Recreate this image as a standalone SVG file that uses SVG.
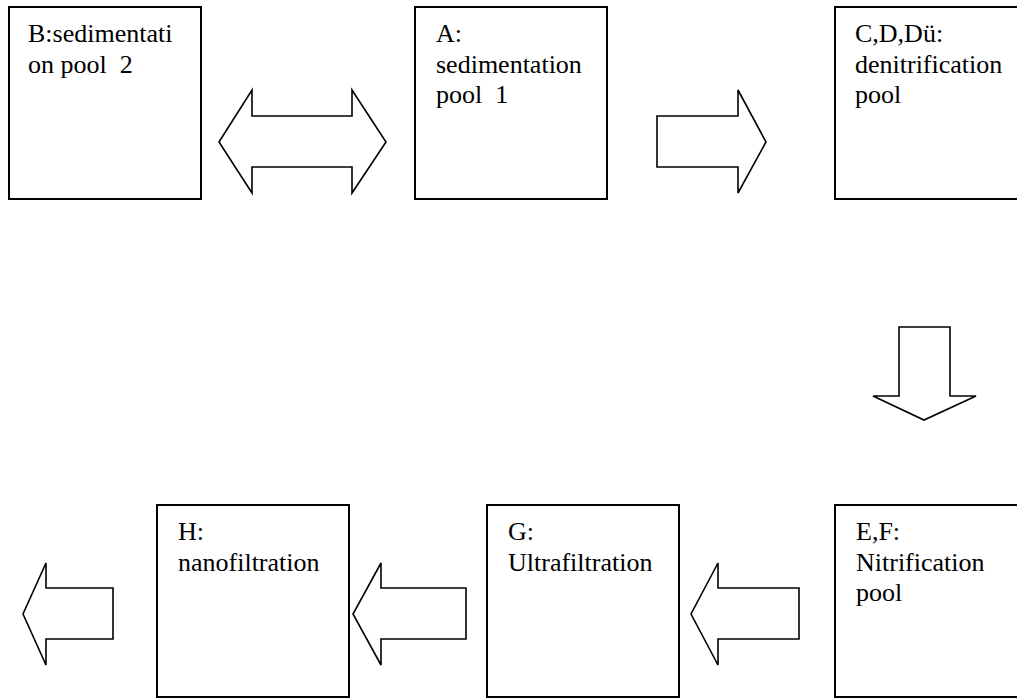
<svg xmlns="http://www.w3.org/2000/svg" width="1017" height="698" viewBox="0 0 1017 698" xml:space="preserve">
<style>
.box{fill:#fff;stroke:#000;stroke-width:2}
.arr{fill:#fff;stroke:#000;stroke-width:1.6;stroke-linejoin:miter}
text{font-family:"Liberation Serif","Times New Roman",serif;font-size:26px;fill:#000;white-space:pre}
</style>
<rect width="1017" height="698" fill="#fff"/>
<g id="connectors">
<polygon class="arr" points="219,142 252,90 252,116 352,116 352,90 386,142 352,193 352,167 252,167 252,193"/>
<polygon class="arr" points="657,116 738,116 738,90 766,142 738,193 738,167 657,167"/>
<polygon class="arr" points="899,327 950,327 950,396 976,396 924,420 873,396 899,396"/>
<polygon class="arr" points="799,588 718,588 718,563 691,614 718,665 718,639 799,639"/>
<polygon class="arr" points="466,588 381,588 381,563 353,614 381,665 381,639 466,639"/>
<polygon class="arr" points="113,588 46,588 46,563 23,614 46,665 46,639 113,639"/>
</g>
<g id="nodeB">
<rect class="box" x="9" y="7" width="192" height="192"/>
<text x="28" y="42">B:sedimentati</text>
<text x="28" y="72.5">on pool  2</text>
</g>
<g id="nodeA">
<rect class="box" x="415" y="7" width="192" height="192"/>
<text x="436" y="42">A:</text>
<text x="436" y="72.5">sedimentation</text>
<text x="436" y="103">pool  1</text>
</g>
<g id="nodeC">
<rect class="box" x="835" y="7" width="192" height="192"/>
<text x="855" y="42">C,D,Dü:</text>
<text x="855" y="72.5">denitrification</text>
<text x="855" y="103">pool</text>
</g>
<g id="nodeE">
<rect class="box" x="835" y="505" width="192" height="192"/>
<text x="856" y="540">E,F:</text>
<text x="856" y="570.5">Nitrification</text>
<text x="856" y="601">pool</text>
</g>
<g id="nodeG">
<rect class="box" x="487" y="505" width="192" height="192"/>
<text x="508" y="540">G:</text>
<text x="508" y="570.5">Ultrafiltration</text>
</g>
<g id="nodeH">
<rect class="box" x="157" y="505" width="192" height="192"/>
<text x="178" y="540">H:</text>
<text x="178" y="570.5">nanofiltration</text>
</g>
</svg>
